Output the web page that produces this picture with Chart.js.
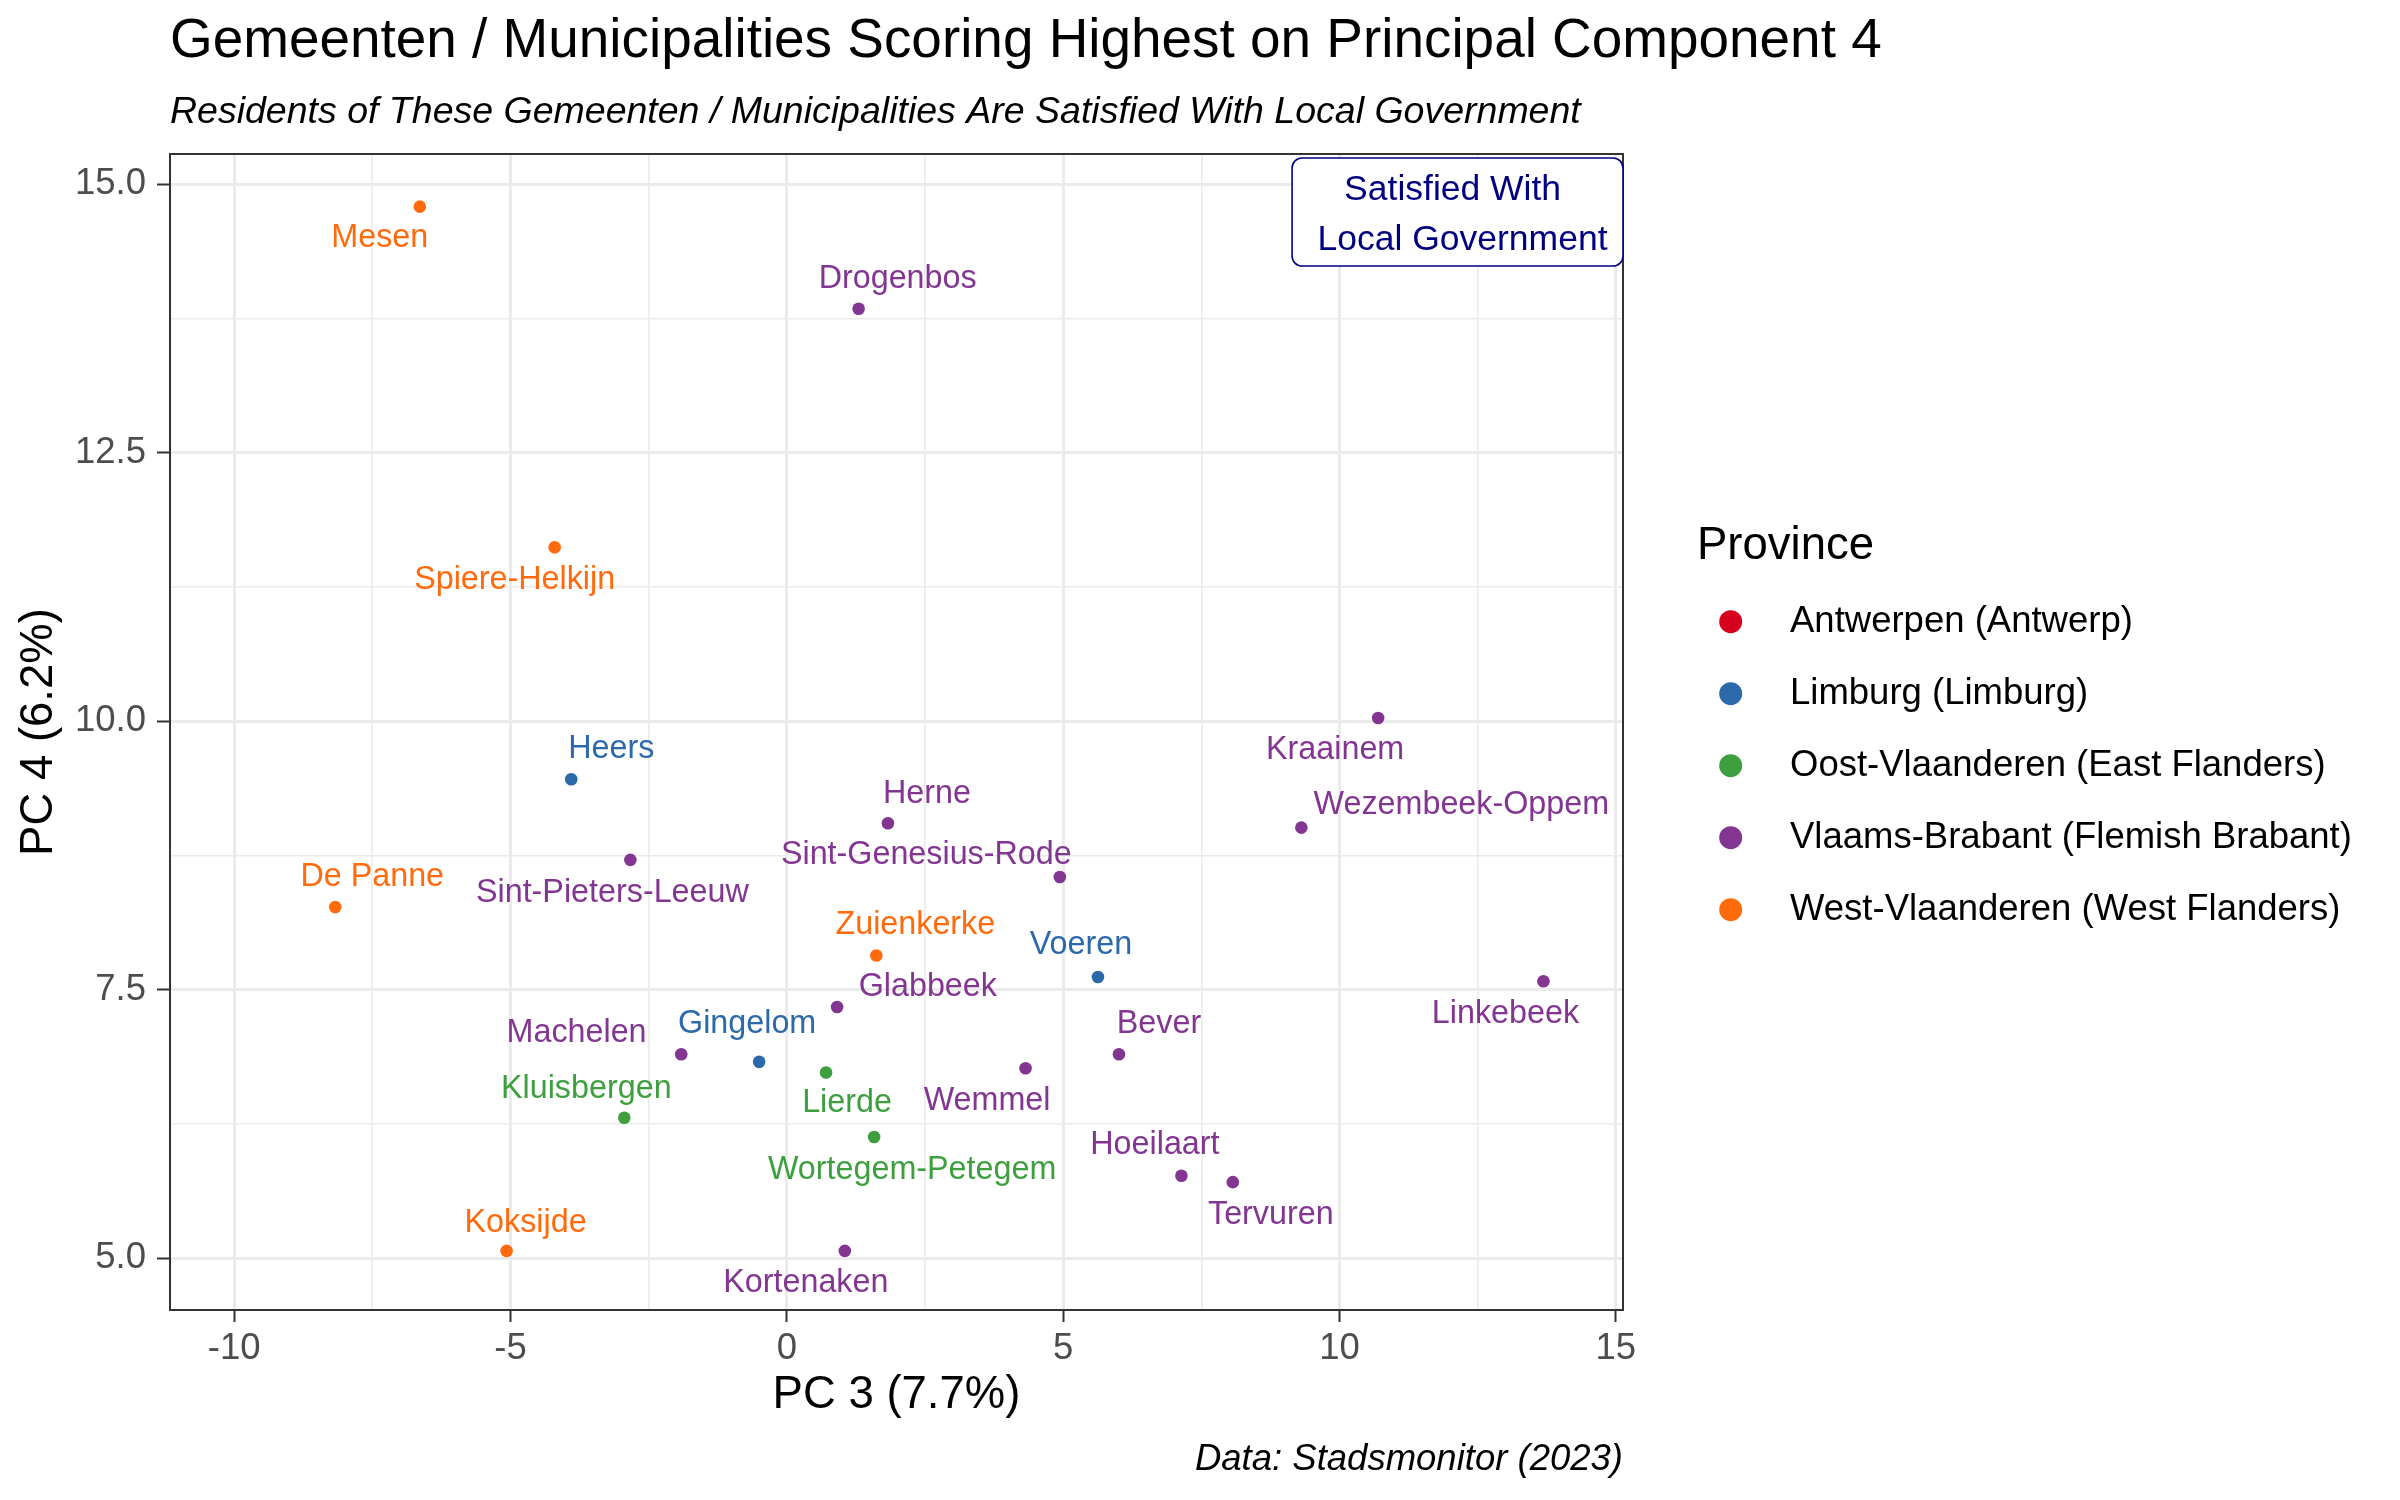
<!DOCTYPE html>
<html>
<head>
<meta charset="utf-8">
<script src="https://cdn.jsdelivr.net/npm/chart.js@4.4.1/dist/chart.umd.min.js"></script>
<style>
  html, body { margin: 0; padding: 0; background: #fff; }
  canvas { display: block; }
</style>
</head>
<body>
<canvas id="grafico" width="2400" height="1500"></canvas>
<script>
// ==== Datos ====
const municipios = [
  "Mesen", "Drogenbos", "Spiere-Helkijn", "Kraainem", "Heers", "Herne",
  "Wezembeek-Oppem", "Sint-Pieters-Leeuw", "Sint-Genesius-Rode", "De Panne",
  "Zuienkerke", "Voeren", "Linkebeek", "Glabbeek", "Machelen", "Gingelom",
  "Bever", "Wemmel", "Lierde", "Kluisbergen", "Wortegem-Petegem", "Hoeilaart",
  "Tervuren", "Koksijde", "Kortenaken"
];
const provinciaDe = [
  "West", "VB", "West", "VB", "Limburg", "VB",
  "VB", "VB", "VB", "West",
  "West", "Limburg", "VB", "VB", "VB", "Limburg",
  "VB", "VB", "OV", "OV", "OV", "VB",
  "VB", "West", "VB"
];
const pc3 = [
  -6.64, 1.30, -4.20, 10.70, -3.90, 1.83,
  9.31, -2.83, 4.94, -8.17,
  1.62, 5.63, 13.69, 0.91, -1.91, -0.50,
  6.01, 4.32, 0.71, -2.94, 1.58, 7.14,
  8.07, -5.07, 1.05
];
const pc4 = [
  14.79, 13.84, 11.62, 10.03, 9.46, 9.05,
  9.01, 8.71, 8.55, 8.27,
  7.82, 7.62, 7.58, 7.34, 6.90, 6.83,
  6.90, 6.77, 6.73, 6.31, 6.13, 5.77,
  5.71, 5.07, 5.07
];

const codigosProvincia = ["Antwerpen", "Limburg", "OV", "VB", "West"];
const nombresProvincia = [
  "Antwerpen (Antwerp)",
  "Limburg (Limburg)",
  "Oost-Vlaanderen (East Flanders)",
  "Vlaams-Brabant (Flemish Brabant)",
  "West-Vlaanderen (West Flanders)"
];
const coloresProvincia = ["#D6001C", "#2C69AB", "#3E9F3E", "#833691", "#FF6A0D"];

const xTicks = [-10, -7.5, -5, -2.5, 0, 2.5, 5, 7.5, 10, 12.5, 15];
const xTickLabels = ["-10", "", "-5", "", "0", "", "5", "", "10", "", "15"];
const yTicks = [5, 6.25, 7.5, 8.75, 10, 11.25, 12.5, 13.75, 15];
const yTickLabels = ["5.0", "", "7.5", "", "10.0", "", "12.5", "", "15.0"];

const titulo = "Gemeenten / Municipalities Scoring Highest on Principal Component 4";
const subtitulo = "Residents of These Gemeenten / Municipalities Are Satisfied With Local Government";
const pie = "Data: Stadsmonitor (2023)";
const nota = ["Satisfied With ", " Local Government"];

// desplazamiento de cada etiqueta respecto a su punto (px), estilo ggrepel
const desplazamiento = {
  "Mesen": [-40, 31], "Drogenbos": [39, -30], "Spiere-Helkijn": [-40, 33],
  "Kraainem": [-43, 32.5], "Heers": [40, -30.6], "Herne": [39, -29],
  "Wezembeek-Oppem": [160, -22.7], "Sint-Pieters-Leeuw": [-18, 33.5],
  "Sint-Genesius-Rode": [-133.5, -21.7], "De Panne": [37, -30.3],
  "Zuienkerke": [39, -30.3], "Voeren": [-17, -31.7], "Linkebeek": [-38, 32.4],
  "Glabbeek": [90.7, -19.7], "Machelen": [-104.7, -21], "Gingelom": [-12, -38],
  "Bever": [40, -30.6], "Wemmel": [-38.5, 33], "Lierde": [21, 31],
  "Kluisbergen": [-38, -29], "Wortegem-Petegem": [38, 33.4],
  "Hoeilaart": [-26.5, -30.7], "Tervuren": [38, 33], "Koksijde": [19, -28],
  "Kortenaken": [-39, 32.5]
};

const FUENTE = "'Liberation Sans', Arial, Helvetica, sans-serif";
const fuente = (tam, estilo = "") => `${estilo} ${tam}px ${FUENTE}`.trim();

// ==== Datasets por provincia ====
const datasets = codigosProvincia.map((cod, i) => {
  const puntos = [];
  municipios.forEach((m, j) => {
    if (provinciaDe[j] === cod) puntos.push({ x: pc3[j], y: pc4[j], nombre: m });
  });
  return {
    label: nombresProvincia[i],
    data: puntos,
    backgroundColor: coloresProvincia[i],
    borderWidth: 0,
    pointRadius: 6.3,
    pointHoverRadius: 6.3
  };
});

const esMayor = (v, paso) => Math.abs(v / paso - Math.round(v / paso)) < 1e-6;

const decorado = {
  id: "decorado",
  afterDatasetsDraw(chart) {
    const ctx = chart.ctx;
    ctx.save();
    ctx.font = fuente(32.3);
    ctx.textAlign = "center";
    ctx.textBaseline = "middle";
    chart.data.datasets.forEach((ds, i) => {
      const meta = chart.getDatasetMeta(i);
      meta.data.forEach((pt, j) => {
        const nombre = ds.data[j].nombre;
        const [dx, dy] = desplazamiento[nombre] || [0, -30];
        ctx.fillStyle = ds.backgroundColor;
        ctx.fillText(nombre, pt.x + dx, pt.y + dy);
      });
    });
    ctx.restore();
  },
  afterDraw(chart) {
    const ctx = chart.ctx;
    const a = chart.chartArea;
    ctx.save();

    // borde del panel
    ctx.strokeStyle = "#333333";
    ctx.lineWidth = 2;
    ctx.strokeRect(a.left, a.top, a.right - a.left, a.bottom - a.top);

    // cuadro de nota
    ctx.font = fuente(35.5);
    const anchoTxt = Math.max(...nota.map(t => ctx.measureText(t).width));
    const pad = 15.5;
    const w = anchoTxt + pad * 2;
    const h = 108;
    const bx = a.right - w, by = a.top + 4;
    ctx.beginPath();
    ctx.roundRect(bx, by, w, h, 10);
    ctx.fillStyle = "#ffffff";
    ctx.fill();
    ctx.strokeStyle = "#000080";
    ctx.lineWidth = 1.6;
    ctx.stroke();
    ctx.fillStyle = "#000080";
    ctx.textAlign = "center";
    ctx.textBaseline = "alphabetic";
    ctx.fillText(nota[0], bx + w / 2, by + 42);
    ctx.fillText(nota[1], bx + w / 2, by + 92);

    // título, subtítulo y pie
    ctx.textAlign = "left";
    ctx.fillStyle = "#000000";
    ctx.font = fuente(54.9);
    ctx.fillText(titulo, 170, 57);
    ctx.font = fuente(37.5, "italic");
    ctx.fillText(subtitulo, 170, 123);
    ctx.textAlign = "right";
    ctx.font = fuente(36.5, "italic");
    ctx.fillText(pie, a.right, 1470);

    // leyenda
    ctx.textAlign = "left";
    ctx.font = fuente(45.5);
    ctx.fillText("Province", 1697, 559);
    ctx.font = fuente(36.5);
    ctx.textBaseline = "middle";
    nombresProvincia.forEach((nom, i) => {
      const y = 621.7 + i * 72;
      ctx.beginPath();
      ctx.arc(1730.7, y, 11.5, 0, Math.PI * 2);
      ctx.fillStyle = coloresProvincia[i];
      ctx.fill();
      ctx.fillStyle = "#000000";
      ctx.fillText(nom, 1790, y);
    });
    ctx.restore();
  }
};

new Chart(document.getElementById("grafico"), {
  type: "scatter",
  data: { datasets },
  plugins: [decorado],
  options: {
    responsive: false,
    animation: false,
    devicePixelRatio: 1,
    layout: { padding: { left: 0, top: 154, right: 777, bottom: 0 } },
    plugins: {
      legend: { display: false },
      tooltip: { enabled: false },
      title: { display: false }
    },
    scales: {
      x: {
        type: "linear",
        min: -11.16,
        max: 15.13,
        afterFit: s => { s.height = 190; },
        afterBuildTicks: s => { s.ticks = xTicks.map(v => ({ value: v })); },
        ticks: {
          autoSkip: false,
          maxRotation: 0,
          padding: 5,
          color: "#4D4D4D",
          font: { family: FUENTE, size: 36.5 },
          callback: v => xTickLabels[xTicks.indexOf(v)] ?? ""
        },
        grid: {
          color: "#EBEBEB",
          lineWidth: c => esMayor(c.tick.value, 5) ? 3 : 1.6,
          tickColor: c => esMayor(c.tick.value, 5) ? "#333333" : "rgba(0,0,0,0)",
          tickWidth: 2,
          tickLength: 12
        },
        border: { display: false },
        title: {
          display: true,
          text: "PC 3 (7.7%)",
          color: "#000000",
          font: { family: FUENTE, size: 45.5 },
          padding: { top: 0, bottom: 77 }
        }
      },
      y: {
        type: "linear",
        min: 4.52,
        max: 15.28,
        afterFit: s => { s.width = 170; },
        afterBuildTicks: s => { s.ticks = yTicks.map(v => ({ value: v })); },
        ticks: {
          autoSkip: false,
          padding: 11,
          color: "#4D4D4D",
          font: { family: FUENTE, size: 36.5 },
          callback: v => yTickLabels[yTicks.indexOf(v)] ?? ""
        },
        grid: {
          color: "#EBEBEB",
          lineWidth: c => esMayor(c.tick.value, 2.5) ? 3 : 1.6,
          tickColor: c => esMayor(c.tick.value, 2.5) ? "#333333" : "rgba(0,0,0,0)",
          tickWidth: 2,
          tickLength: 13
        },
        border: { display: false },
        title: {
          display: true,
          text: "PC 4 (6.2%)",
          color: "#000000",
          font: { family: FUENTE, size: 45.5 },
          padding: { top: 12.5, bottom: 0 }
        }
      }
    }
  }
});
</script>
</body>
</html>
